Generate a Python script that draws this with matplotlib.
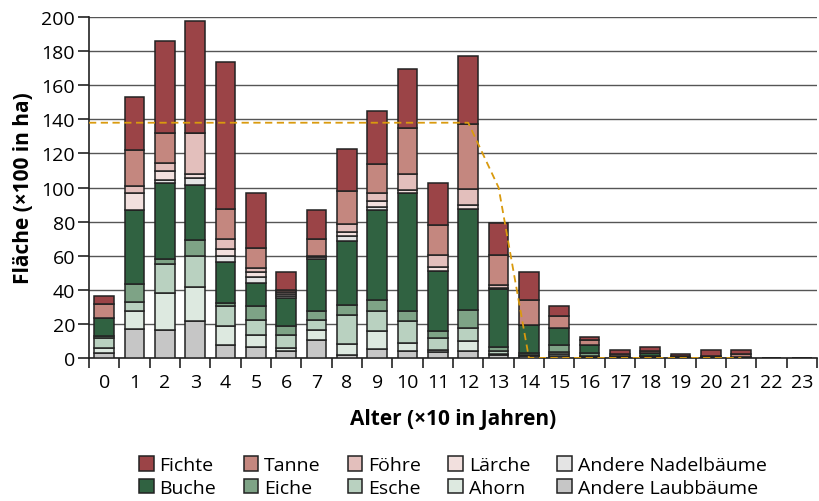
import matplotlib.pyplot as plt
import numpy as np

plt.rcParams['font.family'] = ['Open Sans', 'DejaVu Sans']

# Altersklassen (x10 Jahre)
alter = list(range(24))

# Flächen je Baumart (x100 ha), von unten nach oben gestapelt
andere_laub = [2.9, 17.1, 16.7, 21.4, 7.6, 6.3, 4.3, 10.8, 1.8, 5.3, 3.9, 3.3,
               3.9, 1.5, 1.0, 1.0, 0.5, 0.3, 0.5, 0.3, 0.3, 0.2, 0, 0]
ahorn = [3.0, 10.7, 21.3, 20.2, 11.0, 7.2, 1.4, 5.7, 6.4, 10.8, 4.9, 1.4,
         6.3, 1.0, 0.5, 1.1, 0.2, 0, 0, 0, 0, 0, 0, 0]
esche = [5.7, 5.3, 17.3, 18.2, 11.8, 8.9, 7.8, 5.9, 17.3, 11.7, 12.6, 7.1,
         7.4, 1.4, 0.5, 1.2, 0.5, 0, 0.5, 0, 0, 0, 0, 0]
eiche = [1.1, 10.4, 2.9, 9.6, 2.0, 8.0, 5.5, 5.4, 5.7, 6.3, 5.9, 4.3,
         10.8, 2.3, 0.9, 4.5, 1.6, 0, 0, 0, 0, 0, 0, 0]
buche = [10.6, 43.1, 44.5, 32.0, 23.9, 13.7, 16.3, 30.4, 37.2, 52.6, 69.6, 34.7,
         58.7, 34.0, 16.5, 9.7, 4.8, 0.8, 1.9, 0.3, 0.5, 0.2, 0, 0]
andere_nadel = [0, 0.3, 1.6, 3.9, 3.5, 3.4, 1.2, 0, 3.2, 1.9, 0, 0,
                0, 0.5, 0, 0, 0, 0, 0, 0, 0, 0, 0, 0]
laerche = [0, 10.0, 5.5, 2.5, 4.3, 2.9, 1.0, 0.8, 2.3, 3.4, 1.9, 2.5,
           2.5, 0.5, 0, 0, 0, 0, 0, 0, 0, 0, 0, 0]
foehre = [0, 3.9, 4.3, 24.0, 5.5, 2.3, 1.0, 0.8, 4.9, 4.9, 9.4, 7.3,
          9.4, 1.5, 0, 0, 0, 0, 0, 0, 0, 0, 0, 0]
tanne = [8.5, 21.2, 18.1, 0, 17.7, 12.0, 1.1, 10.2, 19.0, 16.8, 26.5, 17.2,
         38.1, 17.5, 14.9, 7.0, 3.0, 1.3, 1.4, 0.5, 0.6, 2.0, 0, 0]
fichte = [4.5, 31.3, 53.5, 66.0, 86.2, 32.2, 10.8, 16.7, 24.9, 31.4, 34.7, 24.9,
          40.2, 18.8, 16.1, 5.9, 1.6, 2.3, 2.0, 1.3, 3.3, 2.3, 0, 0]

# Nachhaltige Fläche (gestrichelte Linie)
linie_x = [-0.5, 0, 1, 2, 3, 4, 5, 6, 7, 8, 9, 10, 11, 12, 13, 14, 15, 16, 17, 18, 19, 20, 21]
linie_y = [138, 138, 138, 138, 138, 138, 138, 138, 138, 138, 138, 138, 138, 138,
           100, 0, 0, 0, 0, 0, 0, 0, 0]

serien = [
    ('Andere Laubbäume', andere_laub, '#c6c6c6'),
    ('Ahorn', ahorn, '#dde9e0'),
    ('Esche', esche, '#b9d1c0'),
    ('Eiche', eiche, '#7ea386'),
    ('Buche', buche, '#306241'),
    ('Andere Nadelbäume', andere_nadel, '#e4e4e4'),
    ('Lärche', laerche, '#f2e0de'),
    ('Föhre', foehre, '#e3bfbc'),
    ('Tanne', tanne, '#c4877f'),
    ('Fichte', fichte, '#9b4447'),
]

fig = plt.figure(figsize=(8.19, 5.02), dpi=100)
ax = fig.add_axes([0.1087, 0.2849, 0.889, 0.6792])

bottom = np.zeros(len(alter))
handles = {}
for name, werte, farbe in serien:
    werte = np.array(werte)
    b = ax.bar(alter, werte, bottom=bottom, width=0.65, color=farbe,
               edgecolor='#222222', linewidth=1.1, zorder=3)
    handles[name] = b
    bottom += werte

ax.plot(linie_x, linie_y, color='#d99a0e', linestyle=(0, (4, 2.5)), linewidth=1.3, zorder=4)

ax.set_xlim(-0.5, 23.5)
ax.set_ylim(0, 200)
ax.set_yticks(range(0, 201, 20))
ax.set_xticks(alter)
ax.set_xticks(np.arange(-0.5, 24, 1), minor=True)
ax.tick_params(axis='x', which='major', length=0, labelsize=14, pad=11)
ax.tick_params(axis='x', which='minor', length=7, width=1.2, color='#222222', direction='out')
ax.tick_params(axis='y', length=8, width=1.2, color='#222222', labelsize=14, pad=2)
ax.yaxis.grid(True, color='#555555', linewidth=1.0, zorder=0)
ax.set_axisbelow(True)
for s in ['top', 'right']:
    ax.spines[s].set_visible(False)
for s in ['left', 'bottom']:
    ax.spines[s].set_color('#222222')
    ax.spines[s].set_linewidth(1.2)

ax.set_ylabel('Fläche (×100 in ha)', fontsize=15, fontweight='bold', labelpad=5)
ax.set_xlabel('Alter (×10 in Jahren)', fontsize=15, fontweight='bold', labelpad=12)

reihenfolge = ['Fichte', 'Buche', 'Tanne', 'Eiche', 'Föhre', 'Esche',
               'Lärche', 'Ahorn', 'Andere Nadelbäume', 'Andere Laubbäume']
fig.legend([handles[n] for n in reihenfolge], reihenfolge, ncol=5,
           loc='lower center', bbox_to_anchor=(0.553, -0.027), frameon=False,
           fontsize=14, handlelength=0.75, handleheight=0.75, handletextpad=0.3,
           columnspacing=1.4, labelspacing=0.25)

fig.savefig('out.png', dpi=100)
